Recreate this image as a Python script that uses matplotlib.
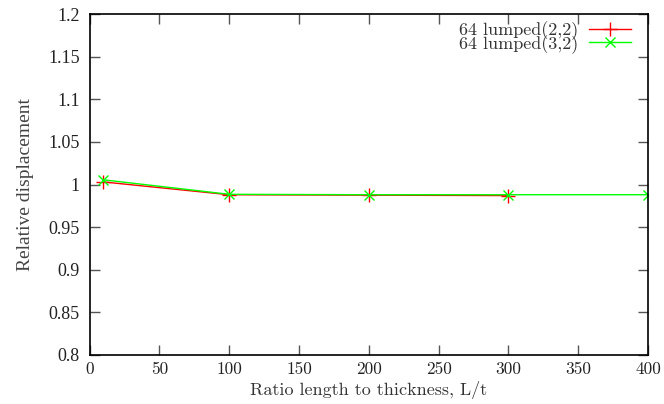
import matplotlib
matplotlib.use("Agg")
import matplotlib.pyplot as plt

ratio_22 = [10, 100, 200, 300]
disp_22 = [1.003, 0.988, 0.9875, 0.987]
ratio_32 = [10, 100, 200, 300, 400]
disp_32 = [1.0055, 0.9885, 0.988, 0.988, 0.988]

xticks = [0, 50, 100, 150, 200, 250, 300, 350, 400]
xtick_labels = ['0', '50', '100', '150', '200', '250', '300', '350', '400']
yticks = [0.8, 0.85, 0.9, 0.95, 1.0, 1.05, 1.1, 1.15, 1.2]
ytick_labels = ['0.8', '0.85', '0.9', '0.95', '1', '1.05', '1.1', '1.15', '1.2']

CM = ['cmr10', 'DejaVu Serif']
TIMES = ['Liberation Serif', 'DejaVu Serif']
plt.rcParams['font.family'] = TIMES
plt.rcParams['axes.unicode_minus'] = False

fig = plt.figure(figsize=(6.64, 4.04), dpi=100)
ax = fig.add_axes([0.1348, 0.1213, 0.976 - 0.1348, 0.9653 - 0.1213])

ax.plot(ratio_22, disp_22, color='#ff0000', linewidth=1.0, marker='+',
        markersize=10, markeredgewidth=1.0, label='64 lumped(2,2)')
ax.plot(ratio_32, disp_32, color='#00ff00', linewidth=1.0, marker='x',
        markersize=7, markeredgewidth=1.0, label='64 lumped(3,2)')

ax.set_xlim(0, 400)
ax.set_ylim(0.8, 1.2)
ax.set_xticks(xticks)
ax.set_xticklabels(xtick_labels, family=CM, fontsize=12.5, color='#222222')
ax.set_yticks(yticks)
ax.set_yticklabels(ytick_labels, family=TIMES, fontsize=13, color='#222222')
ax.tick_params(direction='in', length=7, width=1, color='#555555',
               top=True, right=True)
ax.tick_params(axis='x', pad=5)
ax.tick_params(axis='y', pad=7)
for s in ax.spines.values():
    s.set_linewidth(1.2)
ax.set_xlabel('Ratio length to thickness, L/t', family=CM, fontsize=13,
              color='#333333', labelpad=3)
ax.set_ylabel('Relative displacement', family=TIMES, fontsize=14,
              color='#444444', labelpad=10)

leg = ax.legend(loc='upper right', bbox_to_anchor=(0.982, 1.0), frameon=False,
                markerfirst=False, prop={'family': CM, 'size': 13},
                handlelength=2.3, handletextpad=0.6, labelspacing=-0.28,
                borderpad=0.2, borderaxespad=0.2)
for t in leg.get_texts():
    t.set_color('#333333')

plt.savefig('out.png', dpi=100)
